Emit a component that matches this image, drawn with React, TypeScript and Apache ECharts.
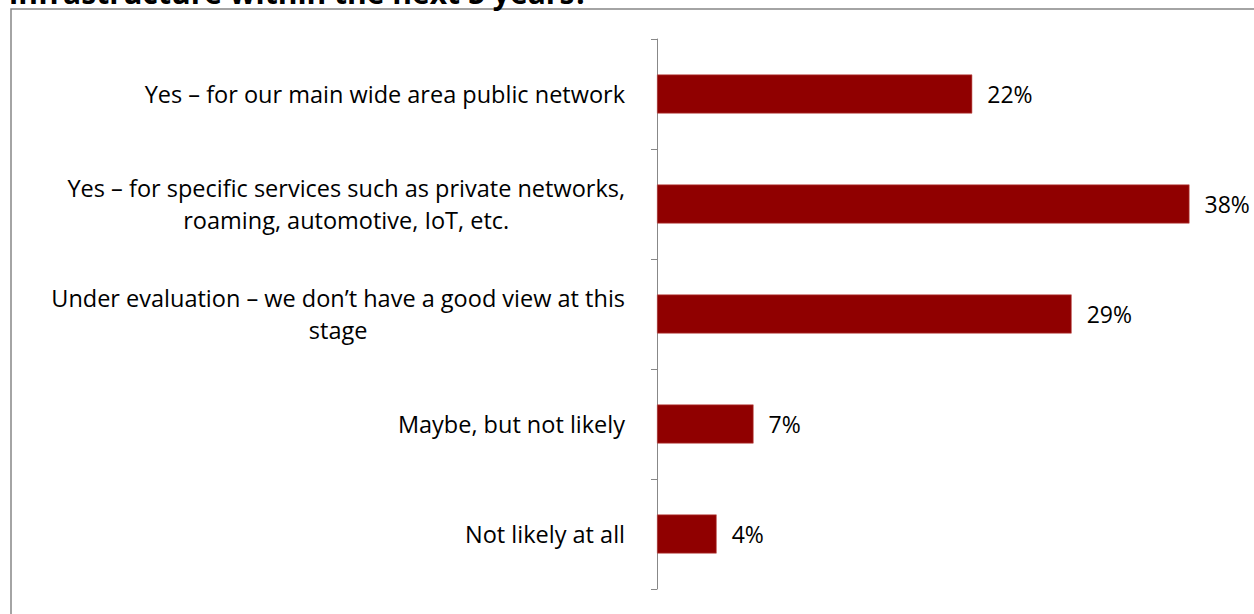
import React, { useEffect, useRef } from "react";
import * as echarts from "echarts";

const titleText = "infrastructure within the next 5 years?";
const categories = [
  "Yes – for our main wide area public network",
  "Yes – for specific services such as private networks,\nroaming, automotive, IoT, etc.",
  "Under evaluation – we don’t have a good view at this\nstage",
  "Maybe, but not likely",
  "Not likely at all",
];
const values = [22.2, 37.5, 29.2, 6.8, 4.2];

const FONT = "Open Sans";

export default function App() {
  const ref = useRef<HTMLDivElement>(null);
  useEffect(() => {
    if (!ref.current) return;
    const chart = echarts.init(ref.current, undefined, { renderer: "svg" });
    chart.setOption({
      animation: false,
      backgroundColor: "#ffffff",
      graphic: [
        {
          type: "rect",
          shape: { x: 11, y: 9, width: 1300, height: 700 },
          style: { fill: "none", stroke: "#878787", lineWidth: 1.5 },
          z: 0,
        },
        {
          type: "text",
          x: 9,
          y: 7,
          style: {
            text: titleText,
            font: `bold 30px ${FONT}`,
            fill: "#000",
            verticalAlign: "bottom",
          },
        },
      ],
      grid: { left: 657, top: 39, bottom: 25, width: 568, containLabel: false },
      xAxis: {
        type: "value",
        min: 0,
        max: 40,
        show: false,
      },
      yAxis: {
        type: "category",
        inverse: true,
        data: categories,
        axisLine: { show: true, lineStyle: { color: "#888888", width: 1 } },
        axisTick: { show: true, length: 6, lineStyle: { color: "#888888" } },
        axisLabel: {
          margin: 32,
          color: "#000",
          fontFamily: FONT,
          fontSize: 23.5,
          lineHeight: 32,
          formatter: (v: string) =>
            v
              .split("\n")
              .map((l) => `{c|${l}}`)
              .join("\n"),
          rich: {
            c: { align: "center", fontFamily: FONT, fontSize: 23.5, lineHeight: 32, color: "#000" },
          },
        },
        splitLine: { show: false },
      },
      series: [
        {
          type: "bar",
          data: values,
          barWidth: 39,
          itemStyle: { color: "#900000", borderColor: "#c0504d", borderWidth: 0.6 },
          label: {
            show: true,
            position: "right",
            distance: 15,
            color: "#000",
            fontFamily: FONT,
            fontSize: 23,
            formatter: (p: any) => `${Math.round(p.value)}%`,
          },
        },
      ],
    });
    return () => chart.dispose();
  }, []);
  return (
    <div
      ref={ref}
      style={{ position: "absolute", left: 0, top: 0, width: 1254, height: 614 }}
    />
  );
}
